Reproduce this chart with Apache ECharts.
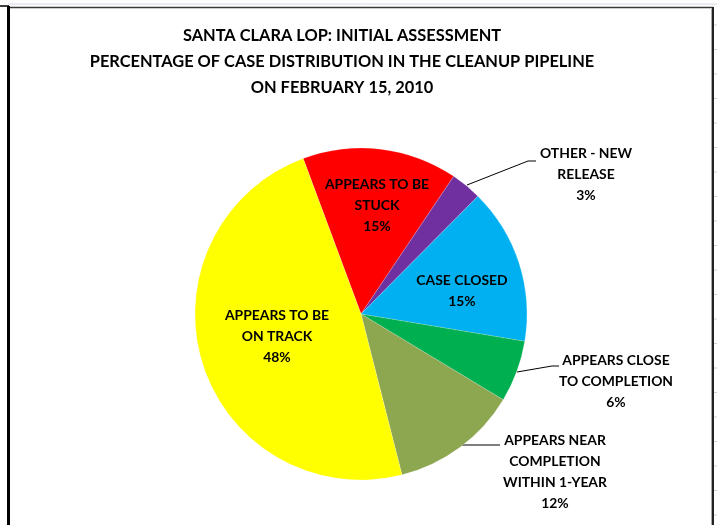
<!DOCTYPE html>
<html>
<head>
<meta charset="utf-8">
<script src="https://cdn.jsdelivr.net/npm/echarts@6/dist/echarts.min.js"></script>
<style>html,body{margin:0;padding:0;background:#fff;}#c{width:717px;height:525px;}</style>
</head>
<body>
<div id="c"></div>
<script>
const titleLines = ['SANTA CLARA LOP: INITIAL ASSESSMENT', 'PERCENTAGE OF CASE DISTRIBUTION IN THE CLEANUP PIPELINE', 'ON FEBRUARY 15, 2010'];
const categories = ['APPEARS TO BE\nSTUCK', 'OTHER - NEW\nRELEASE', 'CASE CLOSED', 'APPEARS CLOSE\nTO COMPLETION', 'APPEARS NEAR\nCOMPLETION\nWITHIN 1-YEAR', 'APPEARS TO BE\nON TRACK'];
const values = [15.1, 3.0, 15.2, 6.0, 12.4, 48.3];
const colors = ['#FF0000', '#7030A0', '#00B0F0', '#00B050', '#8DA650', '#FFFF00'];
const outside = [false, true, false, true, true, false];

const FONT = "Lato, 'Liberation Sans', Arial, sans-serif";
const total = values.reduce((a, b) => a + b, 0);

// label anchor positions (centre of text block) and leader lines
const labelPos = [[377, 206], [586, 175], [462, 291], [616, 382], [555, 472], [277, 337]];
const leaders = [null, [[467, 185], [528, 161], [536, 161]], null, [[517, 372], [552, 366], [559, 366]], null, null];
leaders[4] = [[462, 445], [490, 445], [500, 445]];

const chart = echarts.init(document.getElementById('c'), null, {renderer: 'canvas'});

const data = categories.map((c, i) => ({
  name: c,
  value: values[i],
  itemStyle: {color: colors[i]},
  label: {position: outside[i] ? 'outside' : 'inside'},
  labelLine: {show: outside[i]}
}));

const gridTicks = [];
for (let y = 25; y < 525; y += 24.5) {
  gridTicks.push({type: 'line', shape: {x1: 714, y1: y, x2: 717, y2: y}, style: {stroke: '#c9d0dc', lineWidth: 1}, silent: true});
}

chart.setOption({
  backgroundColor: '#ffffff',
  animation: false,
  title: {
    text: titleLines.join('\n'),
    left: 337,
    top: 18,
    textAlign: 'center',
    textStyle: {fontFamily: FONT, fontWeight: 'bold', fontSize: 16.4, lineHeight: 26, color: '#000'}
  },
  graphic: [
    {type: 'line', shape: {x1: 8, y1: 4, x2: 717, y2: 4}, style: {stroke: '#d4d9e4', lineWidth: 1}, silent: true},
    {type: 'line', shape: {x1: 0, y1: 6, x2: 9, y2: 6}, style: {stroke: '#000', lineWidth: 1.5}, silent: true},
    {type: 'line', shape: {x1: 9, y1: 7.5, x2: 713, y2: 7.5}, style: {stroke: '#3a3a3a', lineWidth: 1.5}, silent: true},
    {type: 'line', shape: {x1: 8.5, y1: 6, x2: 8.5, y2: 525}, style: {stroke: '#000', lineWidth: 3}, silent: true},
    {type: 'line', shape: {x1: 713, y1: 7, x2: 713, y2: 525}, style: {stroke: '#222', lineWidth: 2}, silent: true},
    {type: 'line', shape: {x1: 711.5, y1: 9, x2: 711.5, y2: 525}, style: {stroke: '#aaa', lineWidth: 1}, silent: true}
  ].concat(gridTicks),
  series: [{
    type: 'pie',
    center: [361, 314],
    radius: 166,
    startAngle: 110.4,
    clockwise: true,
    avoidLabelOverlap: false,
    itemStyle: {borderColor: 'rgba(255,255,255,0.35)', borderWidth: 0.5},
    label: {
      show: true,
      fontFamily: FONT,
      fontWeight: 'bold',
      fontSize: 13.9,
      lineHeight: 21,
      color: '#000',
      align: 'center',
      formatter: p => p.name + '\n' + Math.round(p.value / total * 100) + '%'
    },
    labelLine: {lineStyle: {color: '#000', width: 1}, smooth: false},
    labelLayout: function (params) {
      const i = params.dataIndex;
      const res = {x: labelPos[i][0], y: labelPos[i][1], align: 'center', verticalAlign: 'middle'};
      if (leaders[i]) res.labelLinePoints = leaders[i];
      return res;
    },
    emphasis: {disabled: true},
    data: data
  }]
});
</script>
</body>
</html>
